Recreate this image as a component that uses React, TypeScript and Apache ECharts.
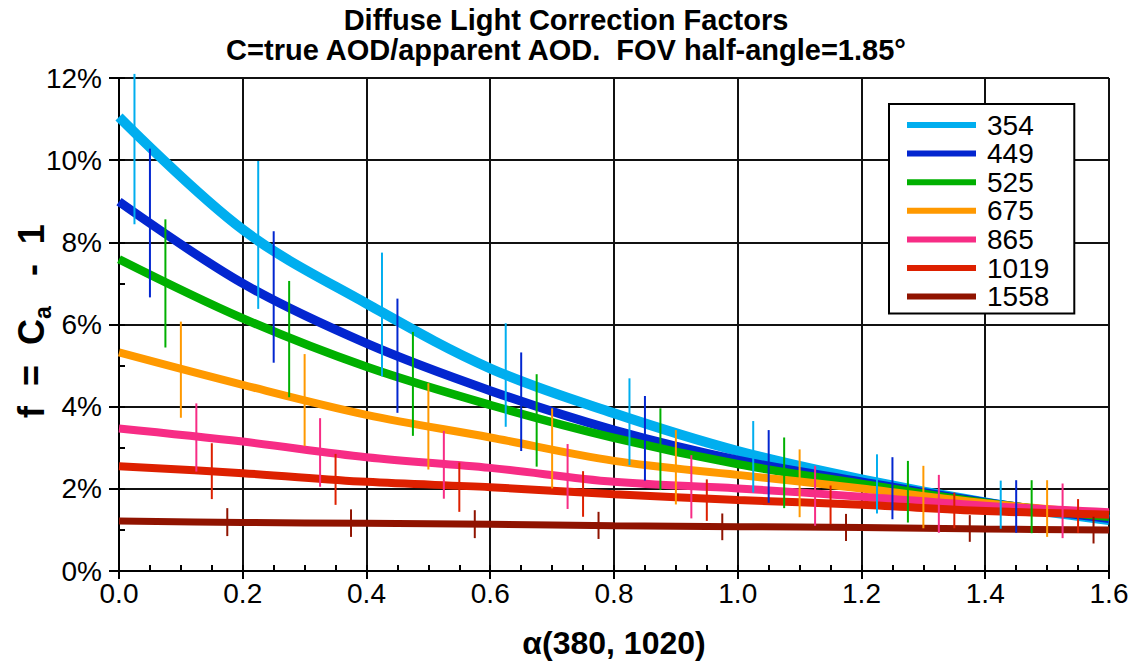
import React, { useEffect, useRef } from "react";
import * as echarts from "echarts";

const FONT = "'Liberation Sans', Arial, Helvetica, sans-serif";

const TITLE_LINE1 = "Diffuse Light Correction Factors";
const TITLE_LINE2 = "C=true AOD/apparent AOD.  FOV half-angle=1.85°";
const X_NAME = "α(380, 1020)";

const X_TICKS_MIN = 0;
const X_TICKS_MAX = 1.6;
const Y_TICKS_MIN = 0;
const Y_TICKS_MAX = 12;

const WAVELENGTHS = ["354", "449", "525", "675", "865", "1019", "1558"];
const COLORS = ["#00AEEF", "#0326D0", "#00B000", "#FF9900", "#F72C85", "#DD2000", "#901300"];
const LINE_WIDTHS = [10, 9, 8.5, 8, 8, 8, 7];

// curve sample positions (alpha)
const ALPHA = [0, 0.2, 0.4, 0.6, 0.8, 1.0, 1.2, 1.4, 1.6];

// f in percent
const f354 = [11.05, 8.31, 6.51, 4.93, 3.84, 2.92, 2.23, 1.67, 1.24];
const f449 = [8.99, 7.0, 5.54, 4.39, 3.43, 2.7, 2.17, 1.67, 1.28];
const f525 = [7.59, 6.15, 4.97, 4.04, 3.24, 2.6, 2.12, 1.66, 1.32];
const f675 = [5.32, 4.53, 3.8, 3.25, 2.68, 2.34, 2.01, 1.65, 1.39];
const f865 = [3.47, 3.15, 2.77, 2.51, 2.17, 2.01, 1.81, 1.59, 1.43];
const f1019 = [2.55, 2.38, 2.17, 2.04, 1.87, 1.73, 1.61, 1.46, 1.37];
const f1558 = [1.22, 1.18, 1.16, 1.14, 1.1, 1.08, 1.06, 1.02, 1.0];

// error bars: alpha position, low, high (percent)
const errX354 = [0.025, 0.225, 0.425, 0.625, 0.825, 1.025, 1.225, 1.425];
const errLo354 = [8.44, 6.38, 4.74, 3.51, 2.58, 1.91, 1.4, 1.03];
const errHi354 = [12.1, 9.98, 7.75, 6.03, 4.69, 3.65, 2.84, 2.2];

const errX449 = [0.05, 0.25, 0.45, 0.65, 0.85, 1.05, 1.25, 1.45];
const errLo449 = [6.66, 5.07, 3.85, 2.92, 2.2, 1.66, 1.26, 0.93];
const errHi449 = [10.28, 8.27, 6.63, 5.32, 4.26, 3.43, 2.77, 2.21];

const errX525 = [0.075, 0.275, 0.475, 0.675, 0.875, 1.075, 1.275, 1.475];
const errLo525 = [5.44, 4.23, 3.29, 2.54, 1.97, 1.53, 1.18, 0.92];
const errHi525 = [8.56, 7.06, 5.82, 4.79, 3.96, 3.25, 2.68, 2.21];

const errX675 = [0.1, 0.3, 0.5, 0.7, 0.9, 1.1, 1.3, 1.5];
const errLo675 = [3.73, 3.04, 2.47, 2.01, 1.62, 1.31, 1.04, 0.83];
const errHi675 = [6.07, 5.28, 4.57, 3.96, 3.43, 2.96, 2.56, 2.21];

const errX865 = [0.125, 0.325, 0.525, 0.725, 0.925, 1.125, 1.325, 1.525];
const errLo865 = [2.42, 2.05, 1.76, 1.51, 1.28, 1.1, 0.93, 0.8];
const errHi865 = [4.08, 3.72, 3.41, 3.09, 2.82, 2.56, 2.34, 2.13];

const errX1019 = [0.15, 0.35, 0.55, 0.75, 0.95, 1.15, 1.35, 1.55];
const errLo1019 = [1.75, 1.61, 1.44, 1.32, 1.22, 1.14, 1.04, 0.93];
const errHi1019 = [3.11, 2.85, 2.64, 2.43, 2.23, 2.08, 1.91, 1.75];

const errX1558 = [0.175, 0.375, 0.575, 0.775, 0.975, 1.175, 1.375, 1.575];
const errLo1558 = [0.85, 0.83, 0.8, 0.78, 0.75, 0.73, 0.71, 0.67];
const errHi1558 = [1.53, 1.5, 1.48, 1.44, 1.4, 1.39, 1.36, 1.32];

const CURVES = [f354, f449, f525, f675, f865, f1019, f1558];
const ERR_X = [errX354, errX449, errX525, errX675, errX865, errX1019, errX1558];
const ERR_LO = [errLo354, errLo449, errLo525, errLo675, errLo865, errLo1019, errLo1558];
const ERR_HI = [errHi354, errHi449, errHi525, errHi675, errHi865, errHi1019, errHi1558];

export default function App() {
  const ref = useRef<HTMLDivElement>(null);

  useEffect(() => {
    if (!ref.current) return;
    const chart = echarts.init(ref.current, null, { renderer: "svg" });

    const lineSeries = WAVELENGTHS.map((name, i) => ({
      name,
      type: "line",
      xAxisIndex: 0,
      yAxisIndex: 0,
      data: ALPHA.map((a, j) => [a, CURVES[i][j]]),
      showSymbol: false,
      smooth: 0.35,
      lineStyle: { color: COLORS[i], width: LINE_WIDTHS[i], cap: "butt" },
      itemStyle: { color: COLORS[i] },
      z: 2 + i * 0.01,
    }));

    const errSeries = WAVELENGTHS.map((name, i) => ({
      type: "custom",
      xAxisIndex: 0,
      yAxisIndex: 0,
      data: ERR_X[i].map((x, j) => [x, ERR_LO[i][j], ERR_HI[i][j]]),
      encode: { x: 0, y: [1, 2] },
      z: 5,
      renderItem: (params: any, api: any) => {
        const x = api.value(0);
        const p1 = api.coord([x, api.value(1)]);
        const p2 = api.coord([x, api.value(2)]);
        return {
          type: "line",
          shape: { x1: p1[0], y1: p1[1], x2: p2[0], y2: p2[1] },
          style: { stroke: COLORS[i], lineWidth: 2 },
        };
      },
    }));

    const titleStyle = {
      fontFamily: FONT,
      fontWeight: "bold",
      fontSize: 29,
      lineHeight: 29,
      color: "#000",
    };

    const option: any = {
      animation: false,
      backgroundColor: "#ffffff",
      title: [
        { text: TITLE_LINE1, left: 566, top: 5, padding: 0, textAlign: "center", textStyle: titleStyle },
        { text: TITLE_LINE2, left: 566, top: 35, padding: 0, textAlign: "center", textStyle: titleStyle },
      ],
      legend: {
        data: WAVELENGTHS,
        orient: "vertical",
        left: 889,
        top: 104,
        padding: [7, 25, 3, 18],
        itemWidth: 69,
        itemHeight: 6,
        itemGap: 0.6,
        icon: "rect",
        backgroundColor: "#fff",
        borderColor: "#000",
        borderWidth: 2,
        borderRadius: 0,
        textStyle: {
          fontFamily: FONT,
          fontSize: 28,
          lineHeight: 28,
          color: "#000",
          padding: [0, 0, 0, 6],
        },
        z: 20,
      },
      grid: { left: 119, right: 26, top: 78, bottom: 95, containLabel: false },
      xAxis: [
        {
          type: "value",
          min: X_TICKS_MIN,
          max: X_TICKS_MAX,
          interval: 0.2,
          position: "bottom",
          name: X_NAME,
          nameLocation: "middle",
          nameGap: 56,
          nameTextStyle: { fontFamily: FONT, fontWeight: "bold", fontSize: 32, color: "#000" },
          axisLine: { show: true, lineStyle: { color: "#000", width: 2 } },
          axisTick: { show: true, inside: false, length: 8, lineStyle: { color: "#000", width: 2 } },
          axisLabel: {
            fontFamily: FONT,
            fontSize: 28,
            color: "#000",
            margin: 8,
            formatter: (v: number) => v.toFixed(1),
          },
          splitLine: { show: true, lineStyle: { color: "#111", width: 2 } },
        },
        {
          type: "value",
          min: X_TICKS_MIN,
          max: X_TICKS_MAX,
          interval: 0.05,
          position: "bottom",
          axisLine: { show: false },
          axisTick: { show: true, inside: true, length: 6, lineStyle: { color: "#000", width: 2 } },
          axisLabel: { show: false },
          splitLine: { show: false },
        },
      ],
      yAxis: [
        {
          type: "value",
          min: Y_TICKS_MIN,
          max: Y_TICKS_MAX,
          interval: 2,
          position: "left",
          axisLine: { show: true, lineStyle: { color: "#000", width: 2 } },
          axisTick: { show: true, inside: false, length: 10, lineStyle: { color: "#000", width: 2 } },
          axisLabel: {
            fontFamily: FONT,
            fontSize: 28,
            color: "#000",
            margin: 17,
            formatter: "{value}%",
          },
          splitLine: { show: true, lineStyle: { color: "#111", width: 2 } },
        },
        {
          type: "value",
          min: Y_TICKS_MIN,
          max: Y_TICKS_MAX,
          interval: 1,
          position: "left",
          axisLine: { show: false },
          axisTick: { show: true, inside: true, length: 6, lineStyle: { color: "#000", width: 2 } },
          axisLabel: { show: false },
          splitLine: { show: false },
        },
      ],
      graphic: [
        {
          type: "text",
          x: 31,
          y: 321,
          rotation: Math.PI / 2,
          style: {
            text: "{m|f  =  C}{s|a}{m|   -  1}",
            align: "center",
            verticalAlign: "middle",
            fill: "#000",
            rich: {
              m: { fontFamily: FONT, fontWeight: "bold", fontSize: 36, lineHeight: 46, verticalAlign: "middle", fill: "#000" },
              s: { fontFamily: FONT, fontWeight: "bold", fontSize: 23, lineHeight: 23, verticalAlign: "bottom", fill: "#000" },
            },
          },
        },
      ],
      series: [...lineSeries, ...errSeries],
    };

    chart.setOption(option);
    return () => chart.dispose();
  }, []);

  return (
    <div
      ref={ref}
      style={{ position: "fixed", left: 0, top: 0, width: 1135, height: 666, background: "#fff" }}
    />
  );
}
